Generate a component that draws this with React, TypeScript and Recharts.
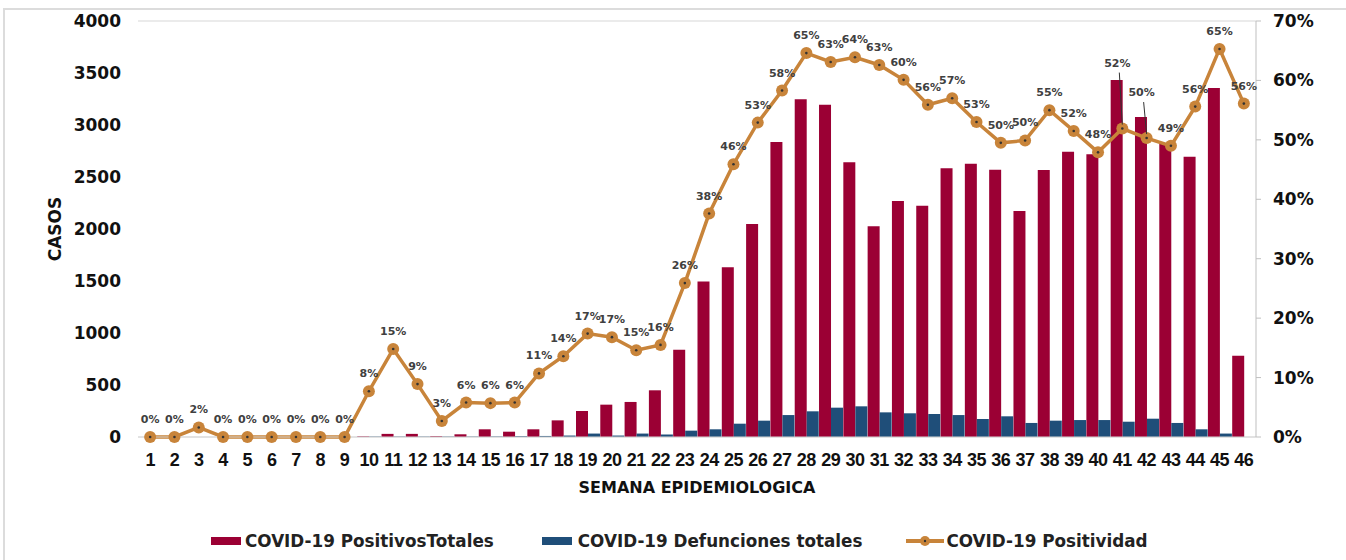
import React from 'react'
import { ComposedChart, Bar, Line, XAxis, YAxis, CartesianGrid, Legend } from 'recharts'

const weeks = [
  '1', '2', '3', '4', '5', '6', '7', '8', '9', '10', '11', '12', '13', '14', '15', '16',
  '17', '18', '19', '20', '21', '22', '23', '24', '25', '26', '27', '28', '29', '30', '31',
  '32', '33', '34', '35', '36', '37', '38', '39', '40', '41', '42', '43', '44', '45', '46',
]

const positivos = [
  0, 0, 0, 0, 0, 0, 0, 0, 0, 6, 30, 30, 8, 26, 74, 51,
  74, 160, 250, 311, 337, 449, 840, 1494, 1632, 2048, 2837, 3247, 3195, 2641, 2026,
  2269, 2224, 2584, 2628, 2570, 2173, 2567, 2743, 2718, 3433, 3077, 2827, 2695, 3356, 782,
]

const defunciones = [
  0, 0, 0, 0, 0, 0, 0, 0, 0, 4, 4, 4, 4, 4, 5, 8,
  10, 14, 33, 14, 33, 24, 61, 74, 128, 157, 211, 247, 282, 295, 237,
  228, 221, 211, 173, 199, 135, 157, 163, 163, 147, 176, 135, 74, 33, 0,
]

const positividad = [
  0, 0, 1.6, 0, 0, 0, 0, 0, 0, 7.7, 14.8, 8.9, 2.7, 5.8, 5.7, 5.8,
  10.7, 13.6, 17.4, 16.8, 14.6, 15.5, 25.9, 37.6, 45.9, 52.9, 58.3, 64.6, 63.1, 63.9, 62.6,
  60.1, 55.9, 57.0, 53.0, 49.5, 49.9, 55.0, 51.5, 47.9, 51.9, 50.3, 49.0, 55.6, 65.3, 56.1,
]

const casosTicks = [0, 500, 1000, 1500, 2000, 2500, 3000, 3500, 4000]
const pctTicks = [0, 10, 20, 30, 40, 50, 60, 70]

const data = weeks.map((w, i) => ({
  semana: w,
  positivos: positivos[i],
  defunciones: defunciones[i],
  positividad: positividad[i],
}))

const RED = '#9b0034'
const BLUE = '#1f4e79'
const TAN = '#c8843a'
const FONT = '"DejaVu Sans", sans-serif'

// labels with a leader line (weeks 41, 42)
const raisedLabels: Record<number, number> = { 40: 62, 41: 42 }

const PctLabel = (props: any) => {
  const { x, y, value, index } = props
  const lift = raisedLabels[index]
  const txt = `${Math.round(value)}%`
  if (lift) {
    return (
      <g>
        <line x1={x - 3} y1={y - lift + 6} x2={x} y2={y - 4} stroke="#333" strokeWidth={1} />
        <text x={x - 5} y={y - lift} textAnchor="middle" fontSize={11} fontWeight="bold" fill="#404040" fontFamily={FONT}>
          {txt}
        </text>
      </g>
    )
  }
  return (
    <text x={x} y={y - 14} textAnchor="middle" fontSize={11} fontWeight="bold" fill="#404040" fontFamily={FONT}>
      {txt}
    </text>
  )
}

const Dot = (props: any) => {
  const { cx, cy, index } = props
  if (cx == null || cy == null) return null
  return (
    <g key={`dot-${index}`}>
      <circle cx={cx} cy={cy} r={6} fill={TAN} />
      <circle cx={cx} cy={cy} r={1.3} fill="#333" />
    </g>
  )
}

const LegendContent = () => (
  <div style={{ height: 63, width: 1346, boxSizing: 'border-box', paddingLeft: 211, paddingTop: 25, display: 'flex', alignItems: 'center', fontFamily: FONT, fontWeight: 'bold', fontSize: 16.8, color: '#222' }}>
    <div style={{ display: 'flex', alignItems: 'center' }}>
      <span style={{ display: 'inline-block', width: 30, height: 8, background: RED, marginRight: 4 }} />
      <span>COVID-19 PositivosTotales</span>
    </div>
    <div style={{ display: 'flex', alignItems: 'center', marginLeft: 48 }}>
      <span style={{ display: 'inline-block', width: 30, height: 8, background: BLUE, marginRight: 6 }} />
      <span>COVID-19 Defunciones totales</span>
    </div>
    <div style={{ display: 'flex', alignItems: 'center', marginLeft: 44 }}>
      <svg width={38} height={14} style={{ marginRight: 2 }}>
        <line x1={0} y1={7} x2={38} y2={7} stroke={TAN} strokeWidth={4} />
        <circle cx={19} cy={7} r={5} fill={TAN} />
        <circle cx={19} cy={7} r={1.2} fill="#333" />
      </svg>
      <span>COVID-19 Positividad</span>
    </div>
  </div>
)

export default function App() {
  return (
    <div style={{ position: 'absolute', left: 0, top: 0, width: 1346, height: 560, background: '#fff', overflow: 'hidden' }}>
      <div style={{ position: 'absolute', left: 3, top: 8, right: -10, bottom: -10, borderTop: '2px solid #dcdcdc', borderLeft: '2px solid #dcdcdc' }} />
      <div style={{ position: 'absolute', left: 0, top: 0 }}>
        <ComposedChart
          width={1346}
          height={560}
          data={data}
          margin={{ top: 21, right: 0, left: 0, bottom: 0 }}
          barCategoryGap={0.5}
          barGap={0}
        >
          <CartesianGrid vertical={false} stroke="#e4e4e4" strokeWidth={1.5} />
          <XAxis
            dataKey="semana"
            height={60}
            interval={0}
            axisLine={{ stroke: '#d9d9d9' }}
            tickLine={false}
            tickMargin={10}
            tick={{ fontSize: 18, fontWeight: 'bold', fill: '#111', fontFamily: '"Liberation Sans", Arial, sans-serif', letterSpacing: -0.5 }}
            label={{ value: 'SEMANA EPIDEMIOLOGICA', position: 'insideBottom', offset: 4, style: { fontSize: 16, fontWeight: 'bold', fill: '#111', fontFamily: FONT } }}
          />
          <YAxis
            yAxisId="left"
            width={138}
            domain={[0, 4000]}
            ticks={casosTicks}
            axisLine={false}
            tickLine={false}
            tickMargin={11}
            tick={{ fontSize: 17, fontWeight: 'bold', fill: '#111', fontFamily: FONT }}
            label={{ value: 'CASOS', angle: -90, position: 'insideLeft', offset: 55, style: { fontSize: 17, fontWeight: 'bold', fill: '#111', fontFamily: FONT, textAnchor: 'middle' } }}
          />
          <YAxis
            yAxisId="right"
            orientation="right"
            width={90}
            domain={[0, 70]}
            ticks={pctTicks}
            tickFormatter={(v) => `${v}%`}
            axisLine={{ stroke: '#bfbfbf' }}
            tickLine={{ stroke: '#bfbfbf' }}
            tickSize={5}
            tickMargin={12}
            tick={{ fontSize: 17, fontWeight: 'bold', fill: '#111', fontFamily: FONT }}
          />
          <Legend verticalAlign="bottom" content={<LegendContent />} wrapperStyle={{ left: 0, width: 1346 }} />
          <Bar yAxisId="left" dataKey="positivos" name="COVID-19 PositivosTotales" fill={RED} isAnimationActive={false} />
          <Bar yAxisId="left" dataKey="defunciones" name="COVID-19 Defunciones totales" fill={BLUE} isAnimationActive={false} />
          <Line
            yAxisId="right"
            dataKey="positividad"
            name="COVID-19 Positividad"
            stroke={TAN}
            strokeWidth={3.5}
            dot={<Dot />}
            activeDot={false}
            label={<PctLabel />}
            isAnimationActive={false}
          />
        </ComposedChart>
      </div>
    </div>
  )
}
